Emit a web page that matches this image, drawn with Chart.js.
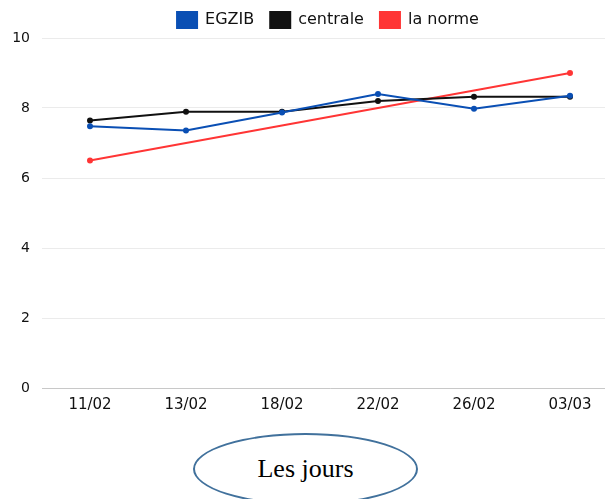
<!DOCTYPE html>
<html>
<head>
<meta charset="utf-8">
<script src="https://cdn.jsdelivr.net/npm/chart.js@4"></script>
<style>
    html, body { margin: 0; padding: 0; background: #fff; overflow: hidden; }
    body { width: 605px; height: 499px; position: relative; }
    .chart-wrap { position: absolute; left: 0; top: 0; width: 656px; height: 422px; }
    .axis-label {
        position: absolute; left: 193px; top: 433px; width: 221px; height: 68px;
        border: 2px solid #41719c; border-radius: 50%;
        display: flex; align-items: center; justify-content: center;
        font-family: "Liberation Serif", "Times New Roman", serif; font-size: 26px; color: #000;
    }
</style>
</head>
<body>
<div class="chart-wrap"><canvas id="chart"></canvas></div>
<div class="axis-label">Les jours</div>
<script>
    const days = ['11/02', '13/02', '18/02', '22/02', '26/02', '03/03'];
    const egzib = [7.48, 7.36, 7.87, 8.4, 7.98, 8.35];
    const centrale = [7.64, 7.89, 7.89, 8.2, 8.32, 8.32];
    const norme = [6.5, 7.0, 7.5, 8.0, 8.5, 9.0];
    const yTicks = [0, 2, 4, 6, 8, 10];

    const FONT = '"DejaVu Sans", sans-serif';

    // keep the legend row compact while spacing the items apart
    const legendHeight = {
        id: 'legendHeight',
        beforeLayout(chart) {
            const lg = chart.legend;
            if (lg && !lg._patched) {
                const fit = lg.fit;
                lg.fit = function () { fit.call(this); this.height = 42; };
                lg._patched = true;
            }
        },
    };

    new Chart(document.getElementById('chart'), {
        type: 'line',
        data: {
            labels: days,
            datasets: [
                { label: 'EGZIB', data: egzib, borderColor: '#0a4fb4', backgroundColor: '#0a4fb4',
                  borderWidth: 2, pointRadius: 2, tension: 0 },
                { label: 'centrale', data: centrale, borderColor: '#111111', backgroundColor: '#111111',
                  borderWidth: 2, pointRadius: 2, tension: 0 },
                { label: 'la norme', data: norme, borderColor: '#ff3535', backgroundColor: '#ff3535',
                  borderWidth: 2, pointRadius: [2, 0, 0, 0, 0, 2], tension: 0 },
            ],
        },
        plugins: [legendHeight],
        options: {
            responsive: true,
            maintainAspectRatio: false,
            animation: false,
            layout: { padding: { left: 0, right: 0, top: -4, bottom: 0 } },
            plugins: {
                legend: {
                    position: 'top',
                    labels: {
                        color: '#111',
                        boxWidth: 20,
                        boxHeight: 16,
                        padding: 16,
                        font: { size: 16, family: FONT },
                    },
                },
                tooltip: { enabled: false },
            },
            scales: {
                x: {
                    offset: true,
                    grid: { display: false, drawTicks: false },
                    border: { display: true, color: '#c8c8c8' },
                    ticks: { color: '#111', padding: 8, font: { size: 15, family: FONT } },
                },
                y: {
                    min: 0,
                    max: 10,
                    afterBuildTicks: s => { s.ticks = yTicks.map(v => ({ value: v })); },
                    afterFit: s => { s.width = 42; },
                    grid: { color: '#ebebeb', drawTicks: false },
                    border: { display: false },
                    ticks: { color: '#111', padding: 12, font: { size: 14, family: FONT } },
                },
                yRight: {
                    position: 'right',
                    min: 0,
                    max: 10,
                    afterFit: s => { s.width = 38; },
                    grid: { display: false, drawTicks: false },
                    border: { display: false },
                    ticks: { display: false },
                },
            },
        },
    });
</script>
</body>
</html>
